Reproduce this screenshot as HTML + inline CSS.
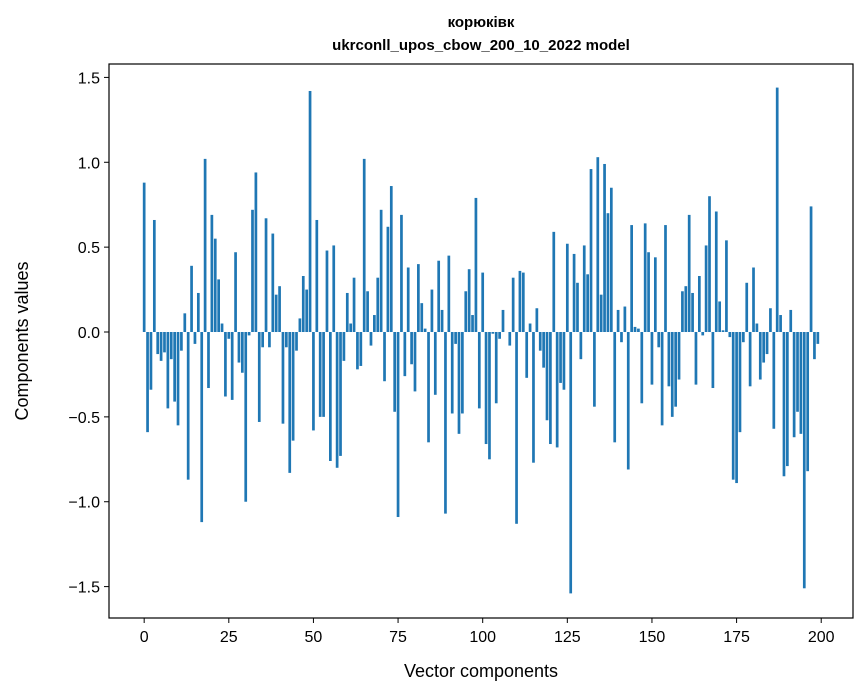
<!DOCTYPE html>
<html><head><meta charset="utf-8"><style>body{margin:0;background:#fff}svg{display:block;font-family:"Liberation Sans","DejaVu Sans",sans-serif}</style></head>
<body>
<svg id="chart" width="867" height="696" xmlns="http://www.w3.org/2000/svg">
<text x="481" y="27" text-anchor="middle" font-size="15" font-weight="bold">корюківк</text>
<text x="481" y="50" text-anchor="middle" font-size="15" font-weight="bold">ukrconll_upos_cbow_200_10_2022 model</text>
<g id="bars"></g>
<g id="axes"></g>
<rect x="109" y="64" width="744" height="554" fill="none" stroke="#000" stroke-width="1.2"/>
<text x="481" y="677" text-anchor="middle" font-size="18">Vector components</text>
<text transform="translate(28,341) rotate(-90)" text-anchor="middle" font-size="18">Components values</text>
</svg>
<script>
const values = [0.88,-0.59,-0.34,0.66,-0.13,-0.17,-0.12,-0.45,-0.16,-0.41,-0.55,-0.11,0.11,-0.87,0.39,-0.07,0.23,-1.12,1.02,-0.33,
0.69,0.55,0.31,0.05,-0.38,-0.04,-0.40,0.47,-0.18,-0.24,-1.00,-0.02,0.72,0.94,-0.53,-0.09,0.67,-0.09,0.58,0.22,
0.27,-0.54,-0.09,-0.83,-0.64,-0.11,0.08,0.33,0.25,1.42,-0.58,0.66,-0.50,-0.50,0.48,-0.76,0.51,-0.80,-0.73,-0.17,
0.23,0.05,0.32,-0.22,-0.20,1.02,0.24,-0.08,0.10,0.32,0.72,-0.29,0.62,0.86,-0.47,-1.09,0.69,-0.26,0.38,-0.19,
-0.35,0.40,0.17,0.02,-0.65,0.25,-0.37,0.42,0.13,-1.07,0.45,-0.48,-0.07,-0.60,-0.48,0.24,0.37,0.10,0.79,-0.45,
0.35,-0.66,-0.75,-0.01,-0.42,-0.04,0.13,0.00,-0.08,0.32,-1.13,0.36,0.35,-0.27,0.05,-0.77,0.14,-0.11,-0.21,-0.52,
-0.66,0.59,-0.68,-0.30,-0.34,0.52,-1.54,0.46,0.29,-0.16,0.51,0.34,0.96,-0.44,1.03,0.22,0.99,0.70,0.85,-0.65,
0.13,-0.06,0.15,-0.81,0.63,0.03,0.02,-0.42,0.64,0.47,-0.31,0.44,-0.09,-0.55,0.63,-0.32,-0.50,-0.44,-0.28,0.24,
0.27,0.69,0.23,-0.31,0.33,-0.02,0.51,0.80,-0.33,0.71,0.18,0.01,0.54,-0.03,-0.87,-0.89,-0.59,-0.06,0.29,-0.32,
0.38,0.05,-0.28,-0.18,-0.13,0.14,-0.57,1.44,0.10,-0.85,-0.79,0.13,-0.62,-0.47,-0.60,-1.51,-0.82,0.74,-0.16,-0.07];
const xTicks = [0,25,50,75,100,125,150,175,200];
const yTicks = [-1.5,-1.0,-0.5,0.0,0.5,1.0,1.5];
const yTickLabels = ["−1.5","−1.0","−0.5","0.0","0.5","1.0","1.5"];

const L=109,R=853,T=64,B=618;
const xMin=-10.39,xMax=209.39,yMin=-1.685,yMax=1.579;
const xs=v=>L+(v-xMin)/(xMax-xMin)*(R-L);
const ys=v=>B-(v-yMin)/(yMax-yMin)*(B-T);
const NS="http://www.w3.org/2000/svg";
const bars=document.getElementById('bars'), axes=document.getElementById('axes');
const bw=xs(0.8)-xs(0);
values.forEach((v,i)=>{
  const r=document.createElementNS(NS,'rect');
  
  
  const y0=ys(0), y1=ys(v);
  r.setAttribute('x',xs(i)-bw/2);
  r.setAttribute('y',Math.min(y0,y1));
  r.setAttribute('width',bw);
  r.setAttribute('height',Math.max(Math.abs(y1-y0),0.01));
  r.setAttribute('fill','#1f77b4');
  bars.appendChild(r);
});
xTicks.forEach(t=>{
  const x=xs(t);
  const l=document.createElementNS(NS,'line');
  
  
  l.setAttribute('x1',x);l.setAttribute('x2',x);l.setAttribute('y1',B);l.setAttribute('y2',B+5);
  l.setAttribute('stroke','#000');
  axes.appendChild(l);
  const tx=document.createElementNS(NS,'text');
  
  
  tx.setAttribute('x',x);tx.setAttribute('y',B+24);
  tx.setAttribute('text-anchor','middle');tx.setAttribute('font-size','16');
  tx.textContent=t;
  axes.appendChild(tx);
});
yTicks.forEach((t,i)=>{
  const y=ys(t);
  const l=document.createElementNS(NS,'line');
  
  
  l.setAttribute('x1',L-5);l.setAttribute('x2',L);l.setAttribute('y1',y);l.setAttribute('y2',y);
  l.setAttribute('stroke','#000');
  axes.appendChild(l);
  const tx=document.createElementNS(NS,'text');
  
  
  tx.setAttribute('x',L-9);tx.setAttribute('y',y+6);
  tx.setAttribute('text-anchor','end');tx.setAttribute('font-size','16');
  tx.textContent=yTickLabels[i];
  axes.appendChild(tx);
});
</script>
</body></html>
